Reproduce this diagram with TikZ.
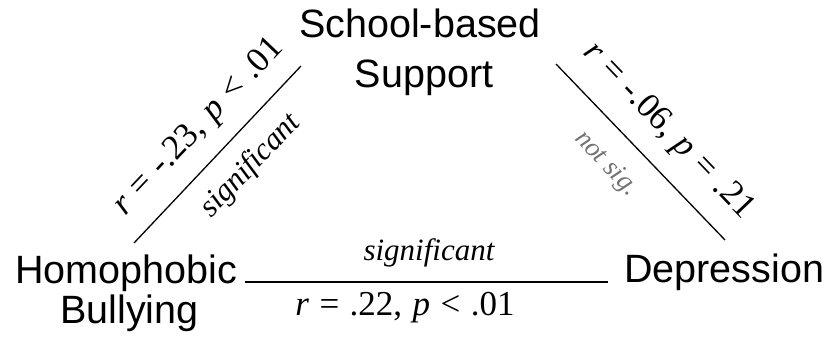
\documentclass[tikz,border=0pt]{standalone}
\usepackage{fontspec}
\setmainfont{Liberation Serif}
\setsansfont{Liberation Sans}
\newcommand\mywidesp{\spaceskip=0.3em\relax}
\begin{document}
\begin{tikzpicture}[x=1pt,y=-1pt,
  var/.style={font=\sffamily\fontsize{39.5}{45}\selectfont, align=center, inner sep=0pt},
  stat/.style={font={\rmfamily\fontsize{35}{38}\selectfont\mywidesp}, inner sep=0pt},
  lab/.style={font=\rmfamily\itshape\fontsize{31}{34}\selectfont, inner sep=0pt},
  path/.style={line width=1.3pt}]
\useasboundingbox (0,0) rectangle (829,339);
% variables
\node[var, anchor=base] (sch) at (420,38) {School-based};
\node[var, anchor=base] (sup) at (424,88) {Support};
\node[var, anchor=base west] (hom) at (15,283) {Homophobic};
\node[var, anchor=base] (bul) at (129.5,323) {Bullying};
\node[var, anchor=base west] (dep) at (624,282) {Depression};
% line endpoints
\coordinate (l1) at (134,243);
\coordinate (l2) at (301,66);
\coordinate (r1) at (556,64);
\coordinate (r2) at (725,240);
\coordinate (b1) at (245,282);
\coordinate (b2) at (608,282);
\draw[path] (l1) -- (l2);
\draw[path] (r1) -- (r2);
\draw[path] (b1) -- (b2);
% labels
\node[stat, rotate=46.5] (lstat) at (199,127) {\textit{r} = -.23, \textit{p} < .01};
\node[lab, rotate=46.5] (lsig) at (251,166) {significant};
\node[stat, rotate=-46.2] (rstat) at (668,131) {\textit{r} = -.06, \textit{p} = .21};
\node[lab, rotate=-46.2, text=black!55, font=\rmfamily\itshape\fontsize{27}{29}\selectfont] (rsig) at (606,164) {not sig.};
\node[lab, anchor=base] (bsig) at (429,260) {significant};
\node[stat, anchor=base] (bstat) at (405,315) {\textit{r} = .22, \textit{p} < .01};
\end{tikzpicture}
\end{document}
